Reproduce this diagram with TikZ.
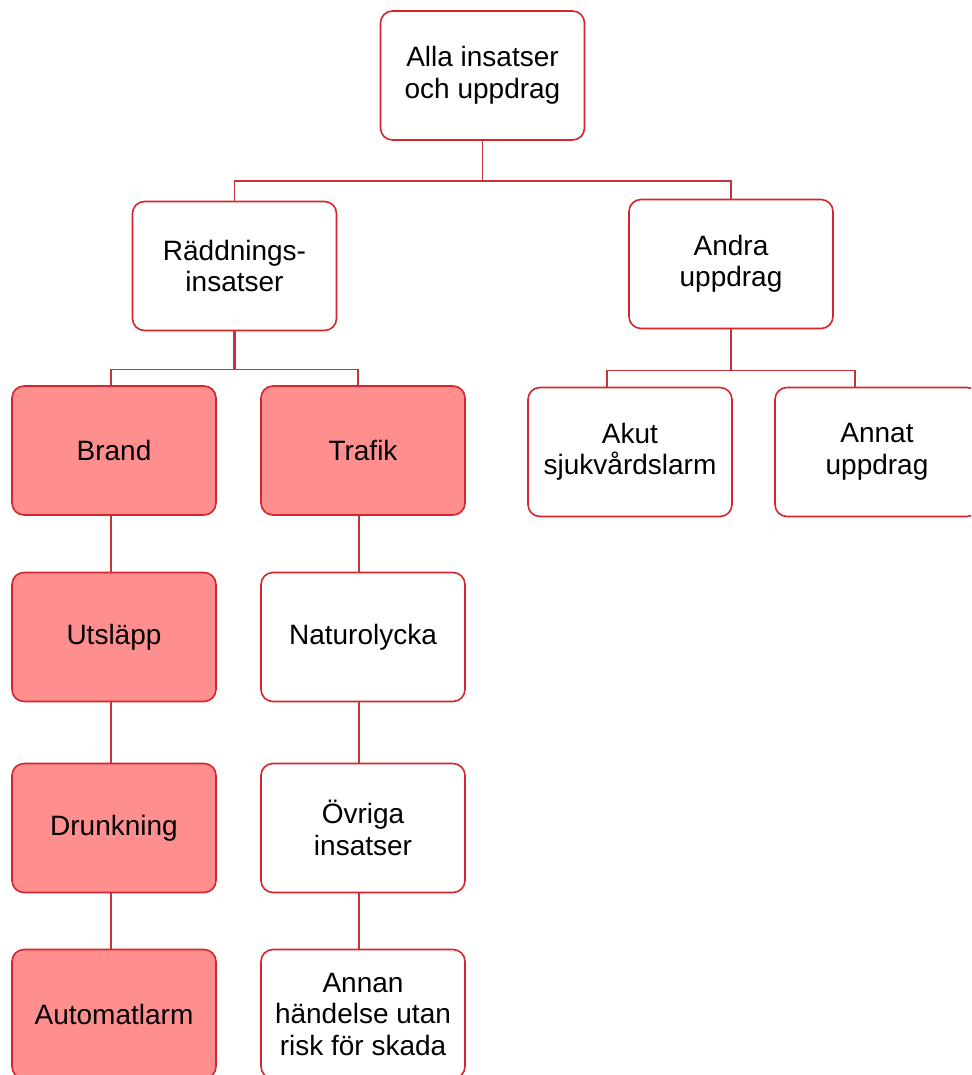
\documentclass[tikz,border=0pt]{standalone}
\usepackage{fontspec}
\setmainfont{Liberation Sans}
\definecolor{bordred}{RGB}{212,38,44}
\definecolor{linered}{RGB}{200,50,56}
\definecolor{salmon}{RGB}{255,143,143}
\begin{document}
\begin{tikzpicture}[x=1pt,y=-1pt,
  box/.style={draw=bordred,line width=1.6pt,rounded corners=12pt,fill=white,
    minimum width=204pt,minimum height=129pt,inner sep=0pt,align=center,
    font=\fontsize{28}{31.5}\selectfont,text=black},
  hot/.style={box,fill=salmon},
  conn/.style={draw=linered,line width=1.6pt}]
\clip (0,0) rectangle (971,1075);
\fill[white] (0,0) rectangle (971,1075);
\node[box] (root) at (482.5,75.5) {Alla insatser\\och uppdrag};
\node[box] (radd) at (234.5,266) {Räddnings-\\insatser};
\node[box] (andra) at (731,264) {Andra\\uppdrag};
\node[hot] (brand) at (114,450.5) {Brand};
\node[hot] (trafik) at (363,450.5) {Trafik};
\node[box] (akut) at (630,452) {Akut\\sjukvårdslarm};
\node[box] (annat) at (877,452) {Annat\\uppdrag};
\node[hot] (utslapp) at (114,637) {Utsläpp};
\node[box] (natur) at (363,637) {Naturolycka};
\node[hot] (drunk) at (114,828) {Drunkning};
\node[box] (ovriga) at (363,828) {Övriga\\insatser};
\node[hot] (auto) at (114,1014) {Automatlarm};
\node[box] (annan) at (363,1014) {Annan\\händelse utan\\risk för skada};
% connectors
\draw[conn] (root.south) -- ++(0,40) -| (radd.north);
\draw[conn] (root.south) -- ++(0,40) -| (andra.north);
\draw[conn,line width=2.4pt] (radd.south) -- ++(0,38);
\draw[conn] (radd.south) -- ++(0,38) -| ([xshift=-3pt]brand.north);
\draw[conn] (radd.south) -- ++(0,38) -| ([xshift=-5pt]trafik.north);
\draw[conn] (andra.south) -- ++(0,41) -| ([xshift=-23pt]akut.north);
\draw[conn] (andra.south) -- ++(0,41) -| ([xshift=-22pt]annat.north);
\draw[conn] ([xshift=-3pt]brand.south) -- ([xshift=-3pt]utslapp.north);
\draw[conn] ([xshift=-3pt]utslapp.south) -- ([xshift=-3pt]drunk.north);
\draw[conn] ([xshift=-3pt]drunk.south) -- ([xshift=-3pt]auto.north);
\draw[conn] ([xshift=-4pt]trafik.south) -- ([xshift=-4pt]natur.north);
\draw[conn] ([xshift=-4pt]natur.south) -- ([xshift=-4pt]ovriga.north);
\draw[conn] ([xshift=-4pt]ovriga.south) -- ([xshift=-4pt]annan.north);
\end{tikzpicture}
\end{document}
